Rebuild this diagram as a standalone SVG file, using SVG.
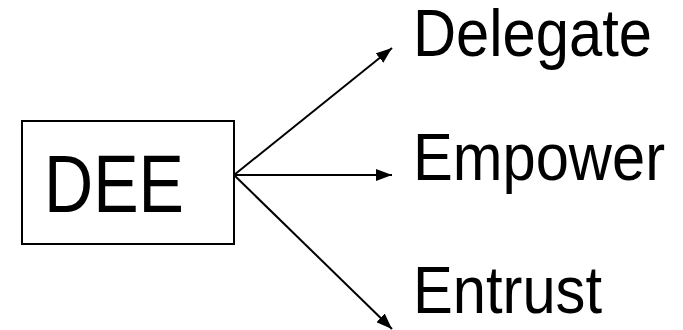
<svg xmlns="http://www.w3.org/2000/svg" width="683" height="330" viewBox="0 0 683 330">
  <style>
    .box { fill: #ffffff; stroke: #000000; stroke-width: 2; }
    .label { font-family: "Liberation Sans", Arial, sans-serif; fill: #000000; }
    .edge { stroke: #000000; stroke-width: 2; fill: none; marker-end: url(#arrow); }
  </style>
  <defs>
    <marker id="arrow" viewBox="0 0 16 12" refX="16" refY="6" markerWidth="16" markerHeight="12" markerUnits="userSpaceOnUse" orient="auto">
      <path d="M0,0 L16,6 L0,12 Z" fill="#000000"/>
    </marker>
  </defs>
  <rect width="683" height="330" fill="#ffffff"/>

  <g id="dee">
    <rect class="box" x="22" y="121" width="212" height="123"/>
    <text class="label" x="44" y="212" font-size="82" textLength="140" lengthAdjust="spacingAndGlyphs">DEE</text>
  </g>

  <g id="connectors">
    <line class="edge" x1="234" y1="175" x2="392" y2="48"/>
    <line class="edge" x1="234" y1="175" x2="392" y2="175"/>
    <line class="edge" x1="234" y1="175" x2="392" y2="329"/>
  </g>

  <g id="delegate">
    <text class="label" x="413" y="56" font-size="67" textLength="239" lengthAdjust="spacingAndGlyphs">Delegate</text>
  </g>
  <g id="empower">
    <text class="label" x="413" y="180" font-size="67" textLength="252" lengthAdjust="spacingAndGlyphs">Empower</text>
  </g>
  <g id="entrust">
    <text class="label" x="413" y="313" font-size="67" textLength="189" lengthAdjust="spacingAndGlyphs">Entrust</text>
  </g>
</svg>
